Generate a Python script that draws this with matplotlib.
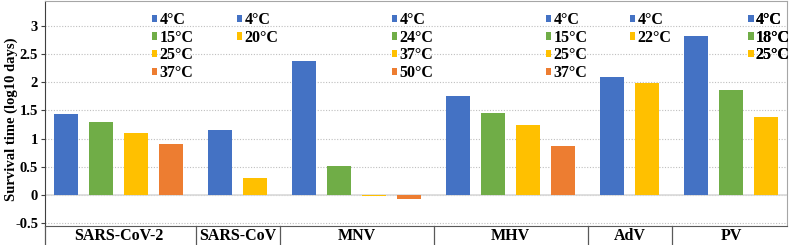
import numpy as np
import matplotlib
matplotlib.use("Agg")
import matplotlib.pyplot as plt
import matplotlib.transforms as mtransforms

plt.rcParams['font.family'] = ['Liberation Serif', 'DejaVu Serif']
plt.rcParams['font.weight'] = 'bold'
plt.rcParams['axes.labelweight'] = 'bold'

# data
viruses = ["SARS-CoV-2", "SARS-CoV", "MNV", "MHV", "AdV", "PV"]
temps = [
    ["4°C", "15°C", "25°C", "37°C"],
    ["4°C", "20°C"],
    ["4°C", "24°C", "37°C", "50°C"],
    ["4°C", "15°C", "25°C", "37°C"],
    ["4°C", "22°C"],
    ["4°C", "18°C", "25°C"],
]
survival = [
    [1.44, 1.30, 1.10, 0.90],
    [1.15, 0.30],
    [2.38, 0.52, -0.02, -0.08],
    [1.75, 1.45, 1.24, 0.87],
    [2.09, 1.99],
    [2.82, 1.87, 1.39],
]

# colour by position in group (Excel style)
pos_cols = [
    ["#4472C4", "#70AD47", "#FFC000", "#ED7D31"],
    ["#4472C4", "#FFC000"],
    ["#4472C4", "#70AD47", "#FFC000", "#ED7D31"],
    ["#4472C4", "#70AD47", "#FFC000", "#ED7D31"],
    ["#4472C4", "#FFC000"],
    ["#4472C4", "#70AD47", "#FFC000"],
]
legend_x = [2.45, 4.88, 9.31, 13.71, 16.11, 19.49]

fig = plt.figure(figsize=(7.9, 2.45), dpi=100)
ax = fig.add_axes([45/790, 19/245, 742/790, 225/245])
trans = mtransforms.blended_transform_factory(ax.transData, ax.transAxes)

gap = 0.4
x0 = 0.0
starts = []
ends = []
for g in range(len(viruses)):
    xs = x0 + np.arange(len(survival[g]))
    bars = ax.bar(xs, survival[g], width=0.69, color=pos_cols[g], zorder=3)
    starts.append(xs[0])
    ends.append(xs[-1])
    leg = ax.legend(bars.patches, temps[g], loc="upper left",
                    bbox_to_anchor=(legend_x[g], 0.95), bbox_transform=trans,
                    frameon=False, handlelength=0.35, handleheight=0.35,
                    handletextpad=0.12, borderpad=0, borderaxespad=0,
                    labelspacing=0.1, prop={'size': 11.5, 'weight': 'bold'})
    ax.add_artist(leg)
    x0 = xs[-1] + 1 + gap

ax.set_xlim(-0.6, 20.6)
ax.set_ylim(-0.55, 3.44)
ax.set_yticks(np.arange(-0.5, 3.01, 0.5))
ax.set_yticklabels(["-0.5", "0", "0.5", "1", "1.5", "2", "2.5", "3"],
                   fontsize=10.5, fontweight='bold')
ax.set_xticks([])
ax.tick_params(axis='y', length=3, color="#404040", pad=2)
ax.grid(axis='y', linestyle=(0, (1, 1.5)), color="#bfbfbf", linewidth=0.8, zorder=0)
ax.axhline(0, color="#d9d9d9", linewidth=1.2, zorder=2)
ax.set_ylabel("Survival time (log10 days)", fontsize=10.5, fontweight='bold')
ax.yaxis.set_label_coords(-0.037, 0.475)

for s in ["top", "right"]:
    ax.spines[s].set_color("#a6a6a6")
    ax.spines[s].set_linewidth(0.8)
ax.spines["left"].set_color("#404040")
ax.spines["bottom"].set_color("#595959")

# group labels and separators
for g, name in enumerate(viruses):
    mid = (starts[g] + ends[g]) / 2
    ax.text(mid, -0.045, name, transform=trans, ha="center", va="center",
            fontsize=11.5, fontweight='bold')
seps = [-0.6] + [(ends[g] + starts[g + 1]) / 2 for g in range(len(viruses) - 1)]
for s in seps:
    ax.plot([s, s], [0, -0.1], transform=trans, color="#595959", linewidth=0.9, clip_on=False)

fig.savefig("out.png", dpi=100)
